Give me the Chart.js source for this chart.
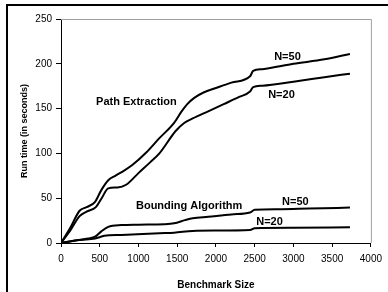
<!DOCTYPE html>
<html>
<head>
<meta charset="utf-8">
<script src="https://cdn.jsdelivr.net/npm/chart.js@4"></script>
<style>
html,body{margin:0;padding:0;background:#fff;}
#wrap{position:relative;width:388px;height:292px;overflow:hidden;}
canvas{display:block;}
</style>
</head>
<body>
<div id="wrap"><canvas id="c" width="388" height="292"></canvas></div>
<script>
// Benchmark sizes (x) and run times (y, seconds) per series
const pathN50X = [0, 120, 240, 330, 440, 520, 610, 700, 800, 920, 1100, 1270, 1460, 1550, 1630, 1720, 1840, 2000, 2200, 2440, 2480, 2600, 3000, 3400, 3730];
const pathN50Y = [0, 17, 36, 40, 46, 59, 70, 75, 80, 87, 101, 117, 134, 146, 155, 162, 168, 173, 179, 186, 192, 194, 200, 205, 211];

const pathN20X = [0, 120, 240, 330, 450, 525, 610, 730, 840, 1000, 1150, 1270, 1480, 1590, 1700, 1900, 2100, 2300, 2440, 2480, 2600, 3000, 3400, 3730];
const pathN20Y = [0, 14, 30, 35, 40, 50, 61, 62, 65, 78, 90, 100, 125, 134, 139, 147, 155, 163, 169, 174, 175.5, 180, 185, 189];

const boundN50X = [0, 200, 350, 440, 520, 610, 780, 1000, 1330, 1460, 1600, 1700, 1900, 2200, 2440, 2500, 2800, 3200, 3730];
const boundN50Y = [0, 3, 5, 7, 13, 18, 20, 20.5, 21, 22, 25.5, 27.6, 29.3, 31.9, 34, 37, 37.6, 38.4, 39.5];

const boundN20X = [0, 240, 440, 560, 780, 1270, 1460, 1700, 2000, 2440, 2500, 3000, 3730];
const boundN20Y = [0, 3.4, 5, 8, 9, 11, 11.5, 13.5, 13.9, 14.5, 16.5, 16.9, 17.5];

const xTicks = [0, 500, 1000, 1500, 2000, 2500, 3000, 3500, 4000];
const yTicks = [0, 50, 100, 150, 200, 250];

// Text labels placed in data coordinates
const labelTexts = ['Path Extraction', 'N=50', 'N=20', 'Bounding Algorithm', 'N=50', 'N=20'];
const labelX = [974, 2923, 2846, 1654, 3026, 2692];
const labelY = [157, 208, 165.5, 41, 46, 23.5];

function zip(xs, ys){ return xs.map((x,i)=>({x:x, y:ys[i]})); }

const lineStyle = {borderColor:'#000', borderWidth:2, pointRadius:0, fill:false, cubicInterpolationMode:'monotone'};

const framePlugin = {
  id:'frame',
  beforeDatasetsDraw(chart){
    const {ctx, chartArea:a} = chart;
    ctx.save();
    ctx.strokeStyle = '#a0a0a0';
    ctx.lineWidth = 1;
    ctx.beginPath();
    ctx.moveTo(a.left, a.top + 0.5);
    ctx.lineTo(a.right + 0.5, a.top + 0.5);
    ctx.lineTo(a.right + 0.5, a.bottom);
    ctx.stroke();
    ctx.restore();
  },
  afterDraw(chart){
    const {ctx} = chart;
    const xs = chart.scales.x, ys = chart.scales.y;
    ctx.save();
    ctx.fillStyle = '#000';
    ctx.font = 'bold 11px "Liberation Sans", Arial, sans-serif';
    ctx.textAlign = 'center';
    ctx.textBaseline = 'middle';
    labelTexts.forEach((t,i)=>{
      ctx.fillText(t, xs.getPixelForValue(labelX[i]), ys.getPixelForValue(labelY[i]));
    });
    // outer frame
    ctx.strokeStyle = '#000';
    ctx.lineWidth = 2;
    ctx.beginPath();
    ctx.moveTo(7, 400);
    ctx.lineTo(7, 5);
    ctx.lineTo(400, 5);
    ctx.stroke();
    ctx.restore();
  }
};

const tickFont = {family:'"Liberation Sans", Arial, sans-serif', size:10};

new Chart(document.getElementById('c'), {
  type:'line',
  data:{
    datasets:[
      Object.assign({label:'Path Extraction N=50', data:zip(pathN50X, pathN50Y)}, lineStyle),
      Object.assign({label:'Path Extraction N=20', data:zip(pathN20X, pathN20Y)}, lineStyle),
      Object.assign({label:'Bounding Algorithm N=50', data:zip(boundN50X, boundN50Y)}, lineStyle),
      Object.assign({label:'Bounding Algorithm N=20', data:zip(boundN20X, boundN20Y)}, lineStyle)
    ]
  },
  options:{
    responsive:false,
    animation:false,
    events:[],
    layout:{padding:{left:0, right:15, top:19, bottom:0}},
    plugins:{legend:{display:false}, tooltip:{enabled:false}},
    scales:{
      x:{
        type:'linear', min:0, max:4000,
        afterBuildTicks(s){ s.ticks = xTicks.map(v=>({value:v})); },
        afterFit(s){ s.height = 49; },
        grid:{display:true, drawOnChartArea:false, drawTicks:true, tickLength:4, color:'#000', lineWidth:1},
        border:{display:true, color:'#000', width:1},
        ticks:{color:'#000', padding:6, maxRotation:0, font:tickFont, callback:(v)=>String(v)},
        title:{display:true, text:'Benchmark Size', color:'#000', padding:{top:0, bottom:1}, font:{family:'"Liberation Sans", Arial, sans-serif', size:10, weight:'bold'}}
      },
      y:{
        type:'linear', min:0, max:250,
        afterBuildTicks(s){ s.ticks = yTicks.map(v=>({value:v})); },
        afterFit(s){ s.width = 61; },
        grid:{display:true, drawOnChartArea:false, drawTicks:true, tickLength:5, color:'#000', lineWidth:1},
        border:{display:true, color:'#000', width:1},
        ticks:{color:'#000', padding:4, font:tickFont, callback:(v)=>String(v)},
        title:{display:true, text:'Run time (in seconds)', color:'#000', padding:{top:19, bottom:0}, font:{family:'"Liberation Sans", Arial, sans-serif', size:9, weight:'bold'}}
      }
    }
  },
  plugins:[framePlugin]
});
</script>
</body>
</html>
